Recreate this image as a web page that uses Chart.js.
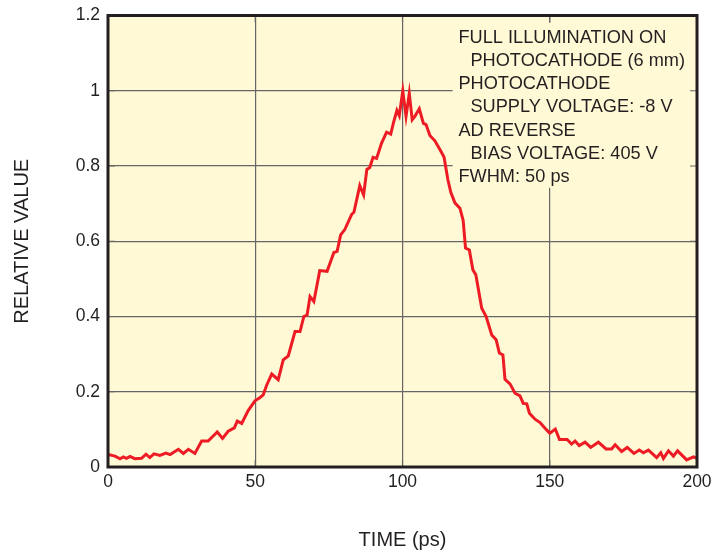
<!DOCTYPE html>
<html>
<head>
<meta charset="utf-8">
<script src="https://cdn.jsdelivr.net/npm/chart.js@4.4.1/dist/chart.umd.min.js"></script>
<style>
  html, body { margin: 0; padding: 0; background: #fff; }
  canvas { display: block; }
</style>
</head>
<body>
<canvas id="pulse_chart" width="713" height="555"></canvas>
<script>
// time (ps) and relative value
const timePs = [0, 2.4, 4.1, 5.2, 6.3, 7.5, 9.1, 11.4, 12.9, 14.2, 15.6, 17.6, 19.7, 21.1, 23.9, 25.6, 27.3, 29.5,
    31.8, 34.0, 37.1, 38.9, 40.8, 42.9, 43.9, 45.4, 47.6, 49.9, 51.4, 52.7, 53.9, 55.6, 57.8, 59.5, 61.2, 63.5, 65.2,
    66.5, 67.6, 68.6, 69.9, 71.9, 74.4, 76.7, 77.8, 79.0, 80.4, 82.7, 83.5, 85.5, 86.8, 87.9, 88.9, 90.0, 91.2, 92.9,
    94.6, 96.0, 96.9, 98.1, 98.9, 100.1, 101.2, 102.3, 103.3, 104.2, 105.7, 107.1, 108.0, 109.3, 111.0, 112.7, 114.1,
    115.4, 116.4, 117.8, 119.5, 120.6, 121.4, 122.7, 123.9, 124.9, 126.9, 128.4, 130.3, 131.8, 132.9, 134.1, 134.8,
    136.5, 138.2, 139.9, 141.0, 142.2, 143.1, 145.0, 146.7, 148.4, 150.0, 151.9, 153.3, 155.9, 157.4, 158.6, 160.0,
    162.0, 163.9, 166.5, 169.1, 171.0, 172.2, 174.4, 176.3, 178.6, 180.4, 181.8, 183.5, 186.3, 187.7, 188.6, 190.3,
    192.0, 193.4, 196.5, 198.8, 200];
const relValue = [0.033, 0.029, 0.022, 0.027, 0.023, 0.028, 0.022, 0.023, 0.034, 0.025, 0.035, 0.031, 0.037, 0.033,
    0.047, 0.036, 0.047, 0.036, 0.069, 0.069, 0.093, 0.076, 0.095, 0.104, 0.122, 0.116, 0.150, 0.176, 0.183, 0.192,
    0.218, 0.247, 0.232, 0.285, 0.295, 0.360, 0.360, 0.400, 0.404, 0.453, 0.440, 0.522, 0.520, 0.570, 0.573, 0.617,
    0.631, 0.671, 0.677, 0.748, 0.723, 0.791, 0.796, 0.823, 0.820, 0.861, 0.890, 0.885, 0.914, 0.948, 0.934, 0.999,
    0.932, 0.993, 0.923, 0.932, 0.952, 0.913, 0.910, 0.881, 0.867, 0.844, 0.824, 0.764, 0.730, 0.702, 0.688, 0.655,
    0.582, 0.577, 0.524, 0.511, 0.422, 0.400, 0.351, 0.338, 0.303, 0.298, 0.233, 0.221, 0.196, 0.189, 0.169, 0.168,
    0.143, 0.127, 0.118, 0.103, 0.090, 0.101, 0.073, 0.073, 0.061, 0.069, 0.057, 0.066, 0.052, 0.066, 0.048, 0.048,
    0.059, 0.041, 0.052, 0.036, 0.045, 0.038, 0.045, 0.025, 0.038, 0.023, 0.043, 0.029, 0.043, 0.019, 0.027, 0.023];

const xTickLabels = ["0", "50", "100", "150", "200"];
const yTickLabels = ["0", "0.2", "0.4", "0.6", "0.8", "1", "1.2"];
const noteLines = ["FULL ILLUMINATION ON", "  PHOTOCATHODE (6 mm)", "PHOTOCATHODE", "  SUPPLY VOLTAGE: -8 V",
    "AD REVERSE", "  BIAS VOLTAGE: 405 V", "FWHM: 50 ps"];

const CREAM = "#FFF9D6";
const INK = "#231F20";

const plotDecor = {
    id: "plotDecor",
    beforeDraw(chart) {
        const {ctx, chartArea: a} = chart;
        ctx.save();
        ctx.fillStyle = CREAM;
        ctx.fillRect(a.left, a.top, a.right - a.left, a.bottom - a.top);
        ctx.restore();
    },
    beforeDatasetsDraw(chart) {
        const {ctx, chartArea: a, scales: {x, y}} = chart;
        ctx.save();
        // note box hides the grid behind it
        const bx = x.getPixelForValue(117), by = y.getPixelForValue(1.181);
        ctx.fillStyle = CREAM;
        ctx.fillRect(bx, by, a.right - bx, y.getPixelForValue(0.742) - by);
        // short inward ticks on every side
        ctx.strokeStyle = "#666";
        ctx.lineWidth = 1.2;
        ctx.beginPath();
        x.ticks.forEach(t => {
            const px = x.getPixelForValue(t.value);
            ctx.moveTo(px, a.top); ctx.lineTo(px, a.top + 7);
            ctx.moveTo(px, a.bottom); ctx.lineTo(px, a.bottom - 7);
        });
        y.ticks.forEach(t => {
            const py = y.getPixelForValue(t.value);
            ctx.moveTo(a.left, py); ctx.lineTo(a.left + 7, py);
            ctx.moveTo(a.right, py); ctx.lineTo(a.right - 7, py);
        });
        ctx.stroke();
        // note text
        ctx.fillStyle = INK;
        ctx.font = "18.2px 'Liberation Sans', Arial, sans-serif";
        ctx.textBaseline = "alphabetic";
        const tx = x.getPixelForValue(119.0);
        let ty = y.getPixelForValue(1.128);
        noteLines.forEach(line => {
            const indent = line.startsWith("  ") ? 12 : 0;
            ctx.fillText(line.trim(), tx + indent, ty);
            ty += 23.3;
        });
        ctx.restore();
    },
    afterDatasetsDraw(chart) {
        const {ctx, chartArea: a} = chart;
        ctx.save();
        ctx.strokeStyle = INK;
        ctx.lineWidth = 3;
        ctx.strokeRect(a.left, a.top, a.right - a.left, a.bottom - a.top);
        ctx.restore();
    }
};

const ctx = document.getElementById("pulse_chart");
const pulse_chart = new Chart(ctx, {
    type: "line",
    data: {
        datasets: [{
            data: timePs.map((t, i) => ({x: t, y: relValue[i]})),
            borderColor: "#ED1C24",
            borderWidth: 3,
            pointRadius: 0,
            tension: 0,
            fill: false
        }]
    },
    options: {
        responsive: false,
        animation: false,
        devicePixelRatio: 1,
        layout: { padding: { top: 15.5, right: 16, left: 0, bottom: 0 } },
        plugins: {
            legend: { display: false },
            tooltip: { enabled: false }
        },
        scales: {
            x: {
                type: "linear",
                min: 0,
                max: 200,
                afterFit: s => { s.height = 88; s.paddingLeft = 0; s.paddingRight = 0; },
                ticks: {
                    stepSize: 50,
                    padding: 5,
                    color: INK,
                    font: { family: "'Liberation Sans', Arial, sans-serif", size: 17.5 },
                    maxRotation: 0,
                    callback: (v, i) => xTickLabels[i]
                },
                grid: { color: "#666", lineWidth: 1.2, drawTicks: false },
                border: { display: false },
                title: {
                    display: true,
                    text: "TIME (ps)",
                    color: INK,
                    font: { family: "'Liberation Sans', Arial, sans-serif", size: 20 },
                    padding: { top: 0, bottom: 3 }
                }
            },
            y: {
                min: 0,
                max: 1.2,
                afterFit: s => { s.width = 108; s.paddingTop = 0; s.paddingBottom = 0; },
                ticks: {
                    stepSize: 0.2,
                    padding: 8,
                    color: INK,
                    font: { family: "'Liberation Sans', Arial, sans-serif", size: 17.5 },
                    callback: (v, i) => yTickLabels[i]
                },
                grid: { color: "#666", lineWidth: 1.2, drawTicks: false },
                border: { display: false },
                title: {
                    display: true,
                    text: "RELATIVE VALUE",
                    color: INK,
                    font: { family: "'Liberation Sans', Arial, sans-serif", size: 20 },
                    padding: { top: 10, bottom: 0 }
                }
            }
        }
    },
    plugins: [plotDecor]
});
</script>
</body>
</html>
